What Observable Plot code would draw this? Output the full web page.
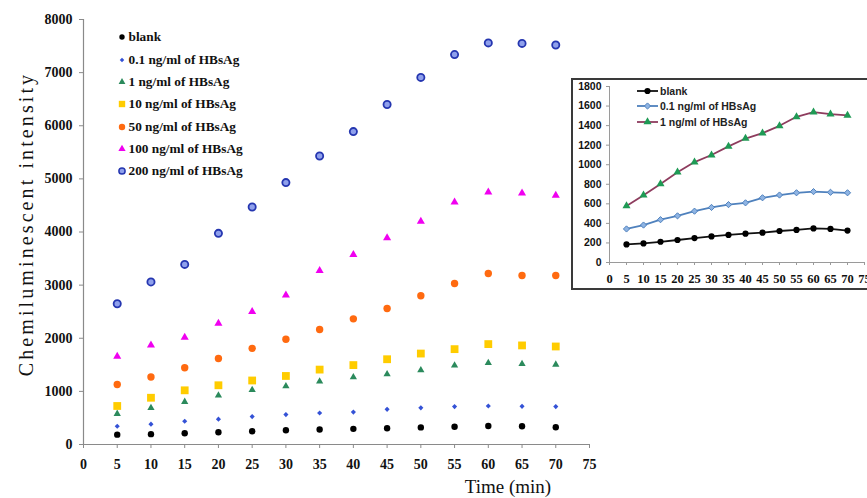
<!DOCTYPE html>
<html><head><meta charset="utf-8">
<script src="https://cdn.jsdelivr.net/npm/d3@7"></script>
<script src="https://cdn.jsdelivr.net/npm/@observablehq/plot@0.6"></script>
<style>
html,body{margin:0;padding:0;background:#fff;overflow:hidden;}
#wrap{position:relative;width:867px;height:498px;overflow:hidden;background:#fff;}
#main{position:absolute;left:0;top:0;}
.lg{position:absolute;display:flex;align-items:center;height:20px;white-space:nowrap;}
.lg span{font-family:"Liberation Serif",serif;font-weight:bold;font-size:13.3px;color:#111;}
#inset{position:absolute;left:571px;top:78px;width:330px;height:212px;border:2px solid #3a3a3a;box-sizing:border-box;background:#fff;overflow:hidden;}
#inset .plot{position:absolute;left:0;top:0;}
.ilg{position:absolute;display:flex;align-items:center;height:14px;white-space:nowrap;}
.ilg span{font-family:"Liberation Sans",sans-serif;font-weight:bold;font-size:10.5px;color:#222;margin-left:2px;}
.title{position:absolute;white-space:nowrap;font-family:"Liberation Serif",serif;color:#111;}
</style></head><body><div id="wrap"></div>
<script>
// ---- data ----
const times = [5,10,15,20,25,30,35,40,45,50,55,60,65,70];
const seriesNames = ["blank","0.1 ng/ml of HBsAg","1 ng/ml of HBsAg","10 ng/ml of HBsAg","50 ng/ml of HBsAg","100 ng/ml of HBsAg","200 ng/ml of HBsAg"];
const blank = [185,195,212,230,250,267,282,295,305,322,333,348,343,326];
const hbs01 = [343,383,438,477,525,563,592,610,662,690,713,725,718,713];
const hbs1  = [578,688,804,923,1027,1099,1188,1268,1323,1398,1490,1537,1518,1505];
const hbs10 = [725,880,1020,1115,1205,1290,1410,1495,1605,1712,1795,1890,1865,1845];
const hbs50 = [1130,1270,1445,1620,1810,1980,2165,2365,2560,2800,3030,3220,3180,3180];
const hbs100 = [1660,1870,2015,2280,2500,2810,3270,3575,3890,4200,4560,4750,4730,4690];
const hbs200 = [2650,3060,3390,3975,4470,4930,5430,5890,6400,6910,7340,7560,7550,7520];
const seriesValues = [blank,hbs01,hbs1,hbs10,hbs50,hbs100,hbs200];
const xTicks = [0,5,10,15,20,25,30,35,40,45,50,55,60,65,70,75];
const yTicks = [0,1000,2000,3000,4000,5000,6000,7000,8000];
const insetYTicks = [0,200,400,600,800,1000,1200,1400,1600,1800];
const insetCount = 3; // first three series shown in the inset

// ---- styles ----
const styles = [
  {symbol:"circle",   r:3.2, fill:"#000000", stroke:"none", sw:0,  lr:2.7},
  {symbol:"diamond2", r:2.3, fill:"#3452d6", stroke:"none", sw:0,  lr:2.0},
  {symbol:"triangle", r:2.7, fill:"#2b8a5c", stroke:"none", sw:0,  lr:2.5},
  {symbol:"square",   r:4.4, fill:"#ffcc00", stroke:"none", sw:0,  lr:3.6},
  {symbol:"circle",   r:3.7, fill:"#ff6a10", stroke:"none", sw:0,  lr:3.2},
  {symbol:"triangle", r:3.0, fill:"#f000f0", stroke:"none", sw:0,  lr:2.7},
  {symbol:"circle",   r:3.6, fill:"#8fa0ec", stroke:"#2536b0", sw:1.8, lr:3.1}
];
const insetStyles = [
  {line:"#111111", symbol:"circle",   r:3.1, fill:"#000000", stroke:"none"},
  {line:"#4f81bd", symbol:"diamond2", r:2.8, fill:"#8fb4e3", stroke:"#4f81bd"},
  {line:"#8e3c5e", symbol:"triangle", r:3.0, fill:"#1f9a55", stroke:"none"}
];

const rows = seriesNames.flatMap((s,i) => times.map((t,j) => ({series:s, idx:i, t, v:seriesValues[i][j]})));
const fmt = d => String(d);

const wrap = document.getElementById("wrap");

// ---- main chart ----
const main = Plot.plot({
  width: 867, height: 498,
  marginLeft: 83, marginRight: 278, marginTop: 19, marginBottom: 54,
  x: {domain: [0, 75]},
  y: {domain: [0, 8000]},
  style: {fontFamily: "Liberation Serif", fontWeight: "bold", fontSize: "14px", color: "#111", background: "transparent"},
  marks: [
    Plot.ruleY([0], {stroke: "#8a8a8a", strokeWidth: 1.2}),
    Plot.ruleX([0], {stroke: "#8a8a8a", strokeWidth: 1.2}),
    Plot.axisX({ticks: xTicks, tickFormat: fmt, tickSize: 4, tickPadding: 11, label: null, stroke: "#8a8a8a", fill: "#111"}),
    Plot.axisY({ticks: yTicks, tickFormat: fmt, tickSize: 4, tickPadding: 7, label: null, stroke: "#8a8a8a", fill: "#111"}),
    ...styles.map((st, i) => Plot.dot(rows.filter(d => d.idx === i), {
      x: "t", y: "v", symbol: st.symbol, r: st.r, fill: st.fill, stroke: st.stroke, strokeWidth: st.sw
    }))
  ]
});
main.id = "main";
wrap.appendChild(main);

// ---- main legend ----
const symMap = {circle: d3.symbolCircle, diamond2: d3.symbolDiamond2, triangle: d3.symbolTriangle, square: d3.symbolSquare};
const legendY = [36.7, 59.5, 81.7, 104.2, 126.6, 148.9, 171.3];
seriesNames.forEach((name, i) => {
  const st = styles[i];
  const div = document.createElement("div");
  div.className = "lg";
  div.style.left = "114.5px";
  div.style.top = (legendY[i] - 10) + "px";
  const svg = d3.create("svg").attr("width", 14).attr("height", 20);
  svg.append("path")
    .attr("transform", "translate(7,10)")
    .attr("d", d3.symbol().type(symMap[st.symbol]).size(Math.PI * st.lr * st.lr)())
    .attr("fill", st.fill).attr("stroke", st.stroke).attr("stroke-width", st.sw ? 1.5 : 0);
  div.appendChild(svg.node());
  const sp = document.createElement("span");
  sp.textContent = name;
  div.appendChild(sp);
  wrap.appendChild(div);
});

// ---- axis titles ----
const yt = document.createElement("div");
yt.className = "title";
yt.textContent = "Chemiluminescent intensity";
Object.assign(yt.style, {left: "26px", top: "224px", fontSize: "20px", letterSpacing: "3.1px",
  transform: "translate(-50%,-50%) rotate(-90deg)"});
wrap.appendChild(yt);
const xt = document.createElement("div");
xt.className = "title";
xt.textContent = "Time (min)";
Object.assign(xt.style, {left: "508px", top: "487px", fontSize: "19px", transform: "translate(-50%,-50%)"});
wrap.appendChild(xt);

// ---- inset ----
const inset = document.createElement("div");
inset.id = "inset";
wrap.appendChild(inset);
const insetRows = rows.filter(d => d.idx < insetCount);
const ip = Plot.plot({
  width: 300, height: 208,
  marginLeft: 36, marginRight: 9, marginTop: 6, marginBottom: 26,
  x: {domain: [0, 75]},
  y: {domain: [0, 1800]},
  style: {fontFamily: "Liberation Sans", fontWeight: "bold", fontSize: "10.5px", color: "#111", background: "transparent"},
  marks: [
    Plot.ruleY([0], {stroke: "#9a9a9a"}),
    Plot.ruleX([0], {stroke: "#9a9a9a"}),
    Plot.axisY({ticks: insetYTicks, tickFormat: fmt, tickSize: 3, tickPadding: 5, label: null, stroke: "#9a9a9a", fill: "#111"}),
    Plot.axisX({ticks: xTicks, tickFormat: fmt, tickSize: 3, tickPadding: 9, label: null, stroke: "#9a9a9a", fill: "#111",
      fontFamily: "Liberation Serif", fontSize: 12.5}),
    ...insetStyles.map((st, i) => Plot.line(insetRows.filter(d => d.idx === i), {x: "t", y: "v", stroke: st.line, strokeWidth: 1.8})),
    ...insetStyles.map((st, i) => Plot.dot(insetRows.filter(d => d.idx === i), {
      x: "t", y: "v", symbol: st.symbol, r: st.r, fill: st.fill, stroke: st.stroke, strokeWidth: 1
    }))
  ]
});
ip.classList.add("plot");
inset.appendChild(ip);

const ilgY = [10.7, 26.0, 41.7];
insetStyles.forEach((st, i) => {
  const div = document.createElement("div");
  div.className = "ilg";
  div.style.left = "64px";
  div.style.top = (ilgY[i] - 7) + "px";
  const svg = d3.create("svg").attr("width", 21).attr("height", 14);
  svg.append("line").attr("x1", 0).attr("x2", 21).attr("y1", 7).attr("y2", 7).attr("stroke", st.line).attr("stroke-width", 1.8);
  svg.append("path").attr("transform", "translate(10.5,7)")
    .attr("d", d3.symbol().type(symMap[st.symbol]).size(Math.PI * st.r * st.r)())
    .attr("fill", st.fill).attr("stroke", st.stroke).attr("stroke-width", 1);
  div.appendChild(svg.node());
  const sp = document.createElement("span");
  sp.textContent = seriesNames[i];
  div.appendChild(sp);
  inset.appendChild(div);
});
</script></body></html>
